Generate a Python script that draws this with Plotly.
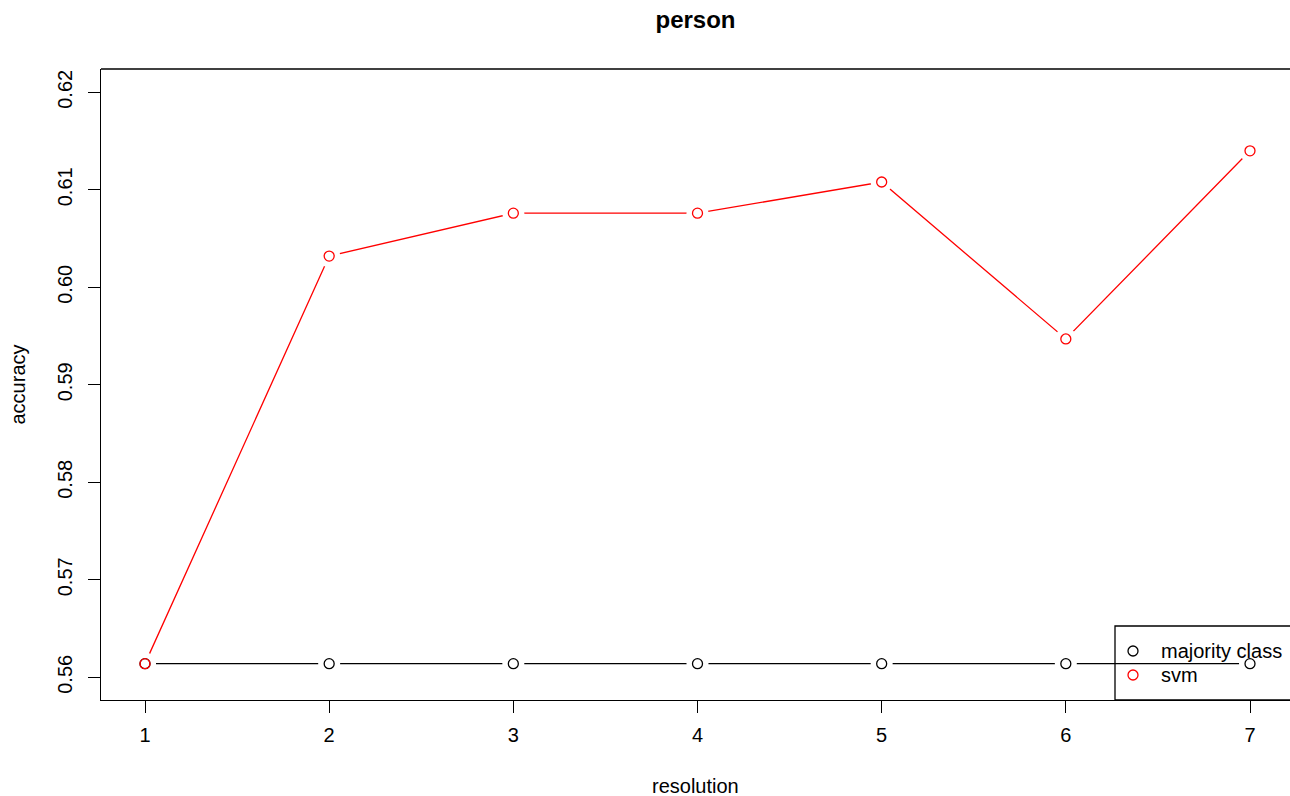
import plotly.graph_objects as go

resolution = [1, 2, 3, 4, 5, 6, 7]
majority_class = [0.5614, 0.5614, 0.5614, 0.5614, 0.5614, 0.5614, 0.5614]
svm = [0.5614, 0.6032, 0.6076, 0.6076, 0.6108, 0.5947, 0.6140]
y_ticks = [0.56, 0.57, 0.58, 0.59, 0.60, 0.61, 0.62]
y_tick_text = ["0.56", "0.57", "0.58", "0.59", "0.60", "0.61", "0.62"]
legend_labels = ["majority class", "svm"]
colors = ["black", "red"]

W, H = 1290, 796
L, R, T, B = 101, 0, 69, 96
PW, PH = W - L - R, H - T - B
FONT = "Liberation Sans, Arial, Helvetica, sans-serif"
FS = 20

def px_x(p):
    return (p - L) / PW

def px_y(p):
    return (H - B - p) / PH

fig = go.Figure()
series = [majority_class, svm]
# lines
for s, c in zip(series, colors):
    fig.add_trace(go.Scatter(x=resolution, y=s, mode="lines",
                             line=dict(color=c, width=1.3), showlegend=False,
                             hoverinfo="skip"))
# white gaps around points (R type="b")
for s in series:
    fig.add_trace(go.Scatter(x=resolution, y=s, mode="markers",
                             marker=dict(symbol="circle", size=22, color="white",
                                         line=dict(width=0)),
                             showlegend=False, hoverinfo="skip"))
# open circles
for s, c in zip(series, colors):
    fig.add_trace(go.Scatter(x=resolution, y=s, mode="markers",
                             marker=dict(symbol="circle-open", size=10, color=c,
                                         line=dict(width=1.3, color=c)),
                             showlegend=False))

shapes = [
    # top border of plot box
    dict(type="line", xref="paper", yref="paper", x0=0, x1=1.02, y0=1, y1=1,
         line=dict(color="black", width=1.3)),
    # legend box
    dict(type="rect", xref="paper", yref="paper", x0=px_x(1115), x1=1.05,
         y0=0, y1=px_y(626), line=dict(color="black", width=1.3)),
]
annotations = []
leg_y = [651, 675]
for lab, c, yy in zip(legend_labels, colors, leg_y):
    shapes.append(dict(type="circle", xref="paper", yref="paper",
                       xsizemode="pixel", ysizemode="pixel",
                       xanchor=px_x(1133), yanchor=px_y(yy),
                       x0=-5, x1=5, y0=-5, y1=5,
                       line=dict(color=c, width=1.3)))
    annotations.append(dict(text=lab, xref="paper", yref="paper",
                            x=px_x(1159), y=px_y(yy), xanchor="left",
                            yanchor="middle", showarrow=False,
                            font=dict(family=FONT, size=FS, color="black")))

annotations.append(dict(text="resolution", xref="paper", yref="paper",
                        x=0.5, y=px_y(786), xanchor="center", yanchor="middle",
                        showarrow=False, font=dict(family=FONT, size=FS, color="black")))
annotations.append(dict(text="accuracy", xref="paper", yref="paper",
                        x=px_x(17), y=0.5, xanchor="center", yanchor="middle",
                        textangle=-90, showarrow=False,
                        font=dict(family=FONT, size=FS, color="black")))

fig.update_layout(
    width=W, height=H,
    margin=dict(l=L, r=R, t=T, b=B, pad=0),
    paper_bgcolor="white", plot_bgcolor="white",
    title=dict(text="person", x=(L + PW / 2) / W, xanchor="center",
               y=1 - 20 / H, yanchor="middle",
               font=dict(family=FONT, size=24, color="black", weight="bold")),
    font=dict(family=FONT, size=FS, color="black"),
    shapes=shapes, annotations=annotations,
    xaxis=dict(range=[1 - 44 / 184.17, 7 + 40 / 184.17], tickvals=resolution,
               ticks="outside", ticklen=12, tickwidth=1.3, tickcolor="black",
               ticklabelstandoff=5,
               showline=True, linecolor="black", linewidth=1.3,
               showgrid=False, zeroline=False,
               tickfont=dict(family=FONT, size=FS, color="black")),
    yaxis=dict(range=[0.55767, 0.62239], tickvals=y_ticks, ticktext=y_tick_text,
               ticks="outside", ticklen=12, tickwidth=1.3, tickcolor="black",
               tickangle=-90, ticklabelstandoff=8,
               showline=True, linecolor="black", linewidth=1.3,
               showgrid=False, zeroline=False,
               tickfont=dict(family=FONT, size=FS, color="black")),
)

fig.write_html("out.html")
